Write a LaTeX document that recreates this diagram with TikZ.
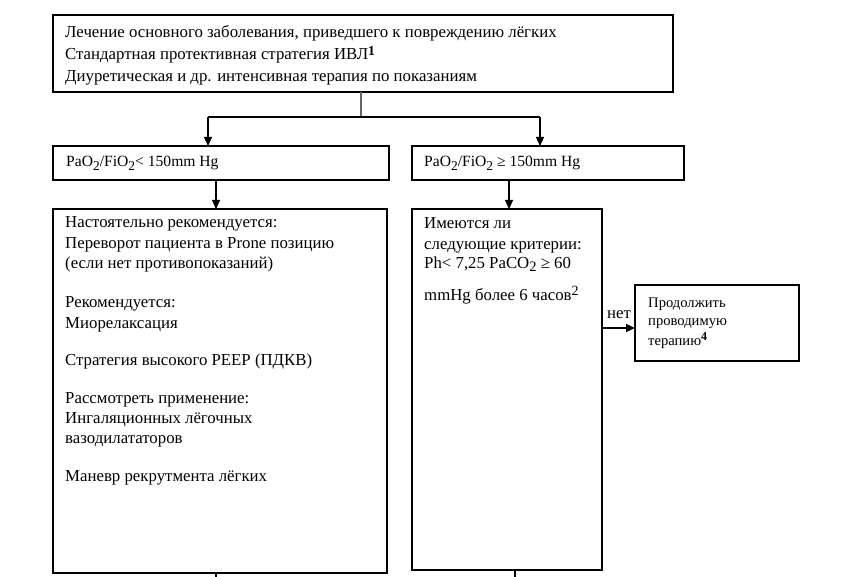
\documentclass[tikz,border=0pt]{standalone}
\usepackage{fontspec}
\setmainfont{Liberation Serif}
\usetikzlibrary{arrows.meta}
\tikzset{
  box/.style={draw=black, line width=1.1pt, fill=white, anchor=north west, inner sep=0pt, outer sep=0pt},
  conn/.style={draw=black, line width=1.1pt},
  arr/.style={conn, -{Triangle[length=9pt,width=8pt]}},
  txt/.style={anchor=base west, inner sep=0pt, font=\fontsize{16.8}{20}\selectfont},
  ptxt/.style={anchor=base west, inner sep=0pt, font=\fontsize{15.6}{18}\selectfont},
  stxt/.style={anchor=base west, inner sep=0pt, font=\fontsize{14.6}{17}\selectfont},
}
\newcommand{\sbt}[1]{\raisebox{-0.45ex}{\fontsize{14.5}{16}\selectfont #1}}
\newcommand{\sbs}[1]{\raisebox{-0.45ex}{\fontsize{13.5}{15}\selectfont #1}}
\begin{document}
\begin{tikzpicture}[x=1pt,y=-1pt]
\useasboundingbox (0,0) rectangle (853,577);
% boxes
\node[box, minimum width=620pt, minimum height=77pt] (top) at (53,15) {};
\node[box, minimum width=336pt, minimum height=34pt] (ls) at (53,146) {};
\node[box, minimum width=272pt, minimum height=34pt] (rs) at (412,146) {};
\node[box, minimum width=334pt, minimum height=364pt] (lb) at (53,209) {};
\node[box, minimum width=190pt, minimum height=361pt] (rb) at (412,209) {};
\node[box, minimum width=164pt, minimum height=76pt] (cont) at (635,285) {};
% texts top
\node[txt] (t1) at (65,38) {Лечение основного заболевания, приведшего к повреждению лёгких};
\node[txt] (t2) at (65,60) {Стандартная протективная стратегия ИВЛ\raisebox{0.55ex}{\fontsize{13.5}{15}\selectfont\bfseries 1}};
\node[txt] (t3) at (65,82) {Диуретическая и др. интенсивная терапия по показаниям};
% small boxes
\node[ptxt] (ls1) at (66,167) {PaO\sbs{2}/FiO\sbs{2}< 150mm Hg};
\node[ptxt] (rs1) at (424,167) {PaO\sbs{2}/FiO\sbs{2} ≥ 150mm Hg};
% left big box
\node[txt] (l1) at (65,228) {Настоятельно рекомендуется:};
\node[txt] (l2) at (65,248) {Переворот пациента в Prone позицию};
\node[txt] (l3) at (65,269) {(если нет противопоказаний)};
\node[txt] (l4) at (65,307) {Рекомендуется:};
\node[txt] (l5) at (65,328) {Миорелаксация};
\node[txt] (l6) at (65,365) {Стратегия высокого PEEP (ПДКВ)};
\node[txt] (l7) at (65,403) {Рассмотреть применение:};
\node[txt] (l8) at (65,423) {Ингаляционных лёгочных};
\node[txt] (l9) at (65,443) {вазодилататоров};
\node[txt] (l10) at (65,481) {Маневр рекрутмента лёгких};
% right big box
\node[txt] (r1) at (424,229) {Имеются ли};
\node[txt] (r2) at (424,249) {следующие критерии:};
\node[txt] (r3) at (424,268) {Ph< 7,25 PaCO\sbt{2} ≥ 60};
\node[txt] (r4) at (424,300) {mmHg более 6 часов\raisebox{0.55ex}{\fontsize{14}{16}\selectfont 2}};
% continue box
\node[stxt] (c1) at (648,307) {Продолжить};
\node[stxt] (c2) at (648,325) {проводимую};
\node[stxt] (c3) at (648,345) {терапию\raisebox{0.6ex}{\fontsize{12}{14}\selectfont\bfseries 4}};
% connectors
\coordinate (j) at (361,117);
\coordinate (jl) at (208,117);
\coordinate (jr) at (540,117);
\draw[conn, draw=gray!80!black] (top.south -| j) -- (j);
\draw[conn] (jl) -- (jr);
\draw[arr] (jl) -- (jl |- ls.north);
\draw[arr] (jr) -- (jr |- rs.north);
\coordinate (al) at (216,180);
\coordinate (ar) at (509,180);
\draw[arr] (al) -- (al |- lb.north);
\draw[arr] (ar) -- (ar |- rb.north);
\coordinate (no) at (603,328);
\draw[arr] (no) -- (no -| cont.west) node[midway, above=5pt, font=\fontsize{16.8}{18}\selectfont] (net) {нет};
\coordinate (bl) at (216,577);
\coordinate (br) at (515,577);
\draw[conn] (bl |- lb.south) -- (bl);
\draw[conn] (br |- rb.south) -- (br);
\end{tikzpicture}
\end{document}
